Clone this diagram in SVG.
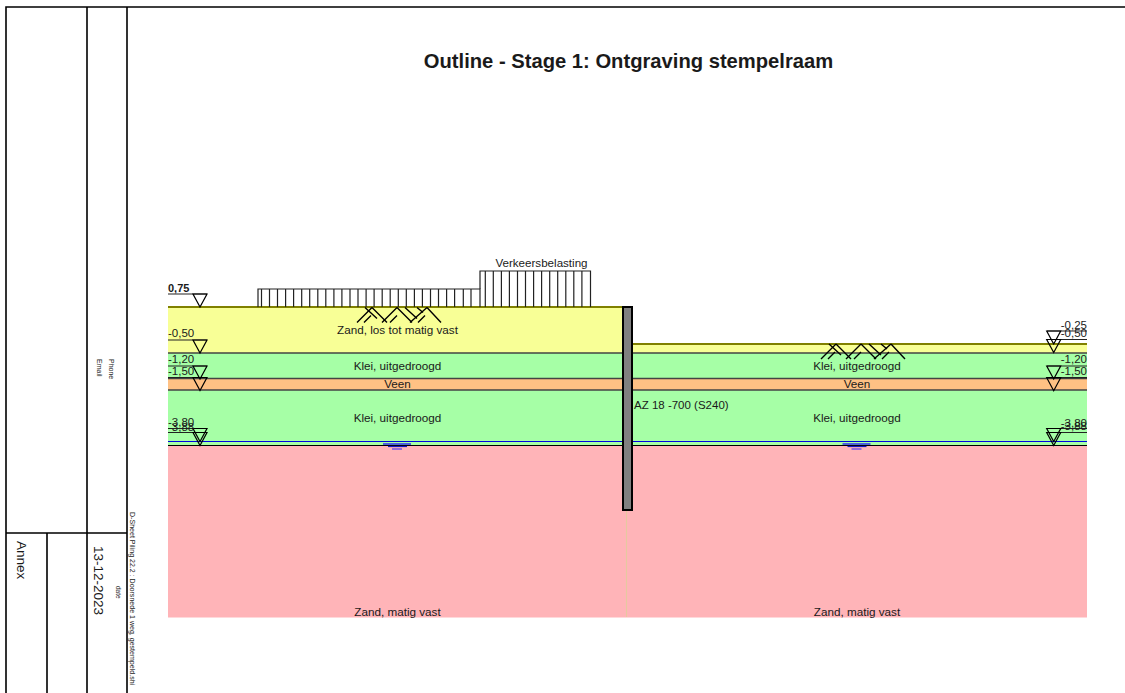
<svg xmlns="http://www.w3.org/2000/svg" width="1125" height="693" viewBox="0 0 1125 693">
<defs>
<g id="hatch" fill="none" stroke="#000" stroke-width="1.4">
<path d="M0 16 L15 1 M25 16 L40 1 M53 16 L70 1"/>
<path d="M15 1 L30 16 M40 1 L55 16 M70 1 L84 16"/>
<path d="M8 1 L20 12 M48 1 L60 12 M60 1 L66 6"/>
<path d="M7 16 L14 9 M33 16 L40 9 M61 16 L68 9"/>
</g>
<g id="water" fill="none">
<path d="M0 0H28" stroke="#4a62d8" stroke-width="2"/>
<path d="M5 2.500H24" stroke="#1414c0" stroke-width="1.200"/>
<path d="M9 5H19" stroke="#6a4ae8" stroke-width="1.400"/>
</g>
<path id="tri" d="M-7 0H7L0 13Z" fill="none" stroke="#000" stroke-width="1.2"/>
</defs>
<style>
text{font-family:"Liberation Sans",Arial,sans-serif;fill:#1a1a1a}
.s{font-size:11.7px;text-anchor:middle}
.l{font-size:11.5px}
.e{font-size:11.5px;text-anchor:end}
.f{stroke:#000;stroke-width:1.6;fill:none}
.b{stroke:#444;stroke-width:1.3;fill:none}
.t{stroke:#222;stroke-width:1.2;fill:none}
</style>
<rect width="1125" height="693" fill="#fff"/>
<g id="frame">
<path class="f" d="M6 693V7H1125M87 7V693M127 7V693M6 533H127M47 533V693"/>
<text transform="translate(17 541) rotate(90)" font-size="13.500">Annex</text>
<text transform="translate(94 546) rotate(90)" font-size="13.500">13-12-2023</text>
<text transform="translate(115.500 586) rotate(90)" font-size="6.500">date</text>
<text transform="translate(130 512) rotate(90)" font-size="7.050">D-Sheet Piling 22.2 : Doorsnede 1 weg, gestempeld.shi</text>
<text transform="translate(108.500 359) rotate(90)" font-size="7">Phone</text>
<text transform="translate(96.500 359) rotate(90)" font-size="7">Email</text>
<text x="628.500" y="68" font-size="20.200" font-weight="bold" text-anchor="middle">Outline - Stage 1: Ontgraving stempelraam</text>
</g>
<g id="soil-left">
<rect x="168" y="307" width="455" height="46" fill="#f8ff96"/>
<rect x="168" y="353" width="455" height="25.500" fill="#a6ffa6"/>
<rect x="168" y="378.500" width="455" height="11.500" fill="#ffc184"/>
<rect x="168" y="390" width="455" height="55" fill="#a6ffa6"/>
<rect x="168" y="445" width="459" height="172.500" fill="#ffb4b8"/>
</g>
<g id="soil-right">
<rect x="632" y="344" width="455" height="9" fill="#f8ff96"/>
<rect x="632" y="353" width="455" height="25.500" fill="#a6ffa6"/>
<rect x="632" y="378.500" width="455" height="11.500" fill="#ffc184"/>
<rect x="632" y="390" width="455" height="55" fill="#a6ffa6"/>
<rect x="627" y="445" width="460" height="172.500" fill="#ffb4b8"/>
</g>
<g id="connectors">
<path stroke="#808000" stroke-width="1.800" fill="none" d="M168 307H622M632 344H1087"/>
<path class="b" d="M168 353H1087M168 378.500H1087M168 390H1087"/>
<path stroke="#0000e0" stroke-width="1.200" fill="none" d="M168 441.500H1087"/>
<path stroke="#000" stroke-width="1.100" fill="none" d="M168 445.500H1087"/>
<path stroke="#e6c8a0" stroke-width="1.200" fill="none" d="M626.500 510V617"/>
</g>
<g id="sheet-pile">
<rect x="623" y="307" width="9" height="203" fill="#808080" stroke="#000" stroke-width="2"/>
<text class="l" x="634" y="409">AZ 18 -700 (S240)</text>
</g>
<g id="load">
<path class="t" d="M258 307V289H480V307M261.500 289V307M269.500 289V307M277.500 289V307M285.600 289V307M293.600 289V307M301.700 289V307M309.700 289V307M317.800 289V307M325.800 289V307M333.900 289V307M341.900 289V307M350 289V307M358 289V307M366.100 289V307M374.100 289V307M382.200 289V307M390.200 289V307M398.300 289V307M406.300 289V307M414.400 289V307M422.400 289V307M430.500 289V307M438.500 289V307M446.600 289V307M454.600 289V307M463.300 289V307M471 289V307"/>
<path class="t" d="M480 289V271H590.500V307M485.300 271V307M493.300 271V307M501.400 271V307M509.400 271V307M517.500 271V307M525.500 271V307M533.600 271V307M541.600 271V307M549.700 271V307M557.700 271V307M565.800 271V307M573.800 271V307M581.900 271V307"/>
<text x="541.500" y="267" font-size="11.600" text-anchor="middle">Verkeersbelasting</text>
</g>
<g id="symbols">
<use href="#hatch" x="357" y="306.500"/>
<use href="#hatch" x="821" y="343"/>
<use href="#water" x="383" y="444"/>
<use href="#water" x="842.500" y="444"/>
</g>
<g id="levels-left">
<path class="t" d="M168 294H207M168 340H207M168 366H207M168 377.500H207M168 428.500H207M168 432.500H207"/>
<use href="#tri" x="200" y="294"/><use href="#tri" x="200" y="340"/><use href="#tri" x="200" y="366"/><use href="#tri" x="200" y="377.500"/><use href="#tri" x="200" y="428.500"/><use href="#tri" x="200" y="432.500"/>
<text x="168" y="292" font-weight="bold" font-size="11">0,75</text>
<text class="l" x="168" y="337">-0,50</text>
<text class="l" x="168" y="362.700">-1,20</text>
<text class="l" x="168" y="375">-1,50</text>
<text class="l" x="168" y="426">-3,80</text>
<text class="l" x="168" y="430.500">-3,88</text>
</g>
<g id="levels-right">
<path class="t" d="M1047 331H1087M1047 339.500H1087M1047 366H1087M1047 377.700H1087M1047 428.500H1087M1047 432.500H1087"/>
<use href="#tri" x="1053.700" y="331"/><use href="#tri" x="1053.700" y="339.500"/><use href="#tri" x="1053.700" y="366"/><use href="#tri" x="1053.700" y="377.700"/><use href="#tri" x="1053.700" y="428.500"/><use href="#tri" x="1053.700" y="432.500"/>
<text class="e" x="1087" y="328.500">-0,25</text>
<text class="e" x="1087" y="337">-0,50</text>
<text class="e" x="1087" y="363">-1,20</text>
<text class="e" x="1087" y="375">-1,50</text>
<text class="e" x="1087" y="427">-3,80</text>
<text class="e" x="1087" y="430">-3,88</text>
</g>
<g id="labels">
<text class="s" x="397.500" y="334">Zand, los tot matig vast</text>
<text class="s" x="397.500" y="370">Klei, uitgedroogd</text>
<text class="s" x="397.500" y="388">Veen</text>
<text class="s" x="397.500" y="422">Klei, uitgedroogd</text>
<text class="s" x="397.500" y="616">Zand, matig vast</text>
<text class="s" x="857" y="370">Klei, uitgedroogd</text>
<text class="s" x="857" y="388">Veen</text>
<text class="s" x="857" y="422">Klei, uitgedroogd</text>
<text class="s" x="857" y="616">Zand, matig vast</text>
</g>
</svg>
